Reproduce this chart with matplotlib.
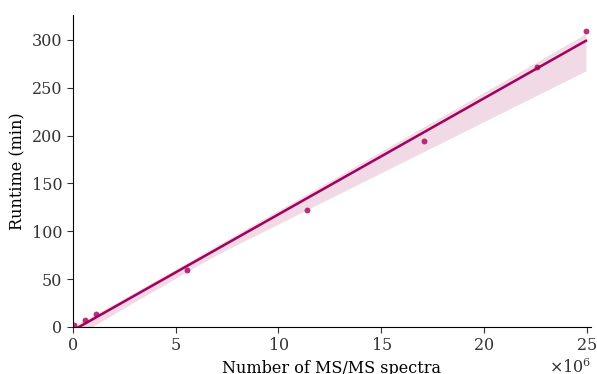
import numpy as np
import matplotlib
matplotlib.use('Agg')
import matplotlib.pyplot as plt

# number of MS/MS spectra vs runtime
n_spectra = [0.05e6, 0.58e6, 1.12e6, 5.55e6, 11.38e6, 17.07e6, 22.57e6, 24.95e6]
runtime   = [1.5, 7.5, 13.5, 59.5, 122.5, 194.5, 272, 309.5]

plt.rcParams['font.family'] = 'DejaVu Serif'
plt.rcParams['font.size'] = 11.5

x = np.array(n_spectra)
y = np.array(runtime)
grid = np.linspace(x.min(), x.max(), 100)
slope, icept = np.polyfit(x, y, 1)
yhat = slope * grid + icept


def boot_band(seed, n_boot=1000):
    rng = np.random.default_rng(seed)
    preds = []
    for _ in range(n_boot):
        idx = rng.integers(0, len(x), len(x))
        if np.unique(x[idx]).size < 2:
            continue
        b, a = np.polyfit(x[idx], y[idx], 1)
        preds.append(b * grid + a)
    preds = np.array(preds)
    return np.percentile(preds, 2.5, axis=0), np.percentile(preds, 97.5, axis=0)


# pick a bootstrap draw that looks like the original band
best = None
for s in range(60):
    lo, hi = boot_band(s, 400)
    score = abs(lo[-1] - 268) + abs(hi[-1] - 305)
    if best is None or score < best[0]:
        best = (score, s)
lo, hi = boot_band(best[1], 400)

fig = plt.figure(figsize=(5.97, 3.74), dpi=100)
ax = fig.add_axes([0.122, 0.126, 0.868, 0.834])

color = "#a3005c"
ax.fill_between(grid, lo, hi, color=color, alpha=0.15, linewidth=0)
ax.plot(grid, yhat, color=color, linewidth=1.8)
ax.scatter(x, y, s=18, color=color, alpha=0.8, linewidths=0)

ax.set_xlim(0, 25.2e6)
ax.set_ylim(0, 326)
ax.set_xticks([0, 5e6, 10e6, 15e6, 20e6, 25e6])
ax.set_yticks([0, 50, 100, 150, 200, 250, 300])
ax.ticklabel_format(axis='x', style='sci', scilimits=(6, 6), useMathText=True)
ax.set_xlabel("Number of MS/MS spectra", fontsize=11.5, labelpad=4)
ax.set_ylabel("Runtime (min)", fontsize=11.5)
ax.spines['top'].set_visible(False)
ax.spines['right'].set_visible(False)
ax.tick_params(direction='out', length=4, colors='#333333', labelcolor='#333333')

plt.savefig("out.png", dpi=100)
plt.close()
